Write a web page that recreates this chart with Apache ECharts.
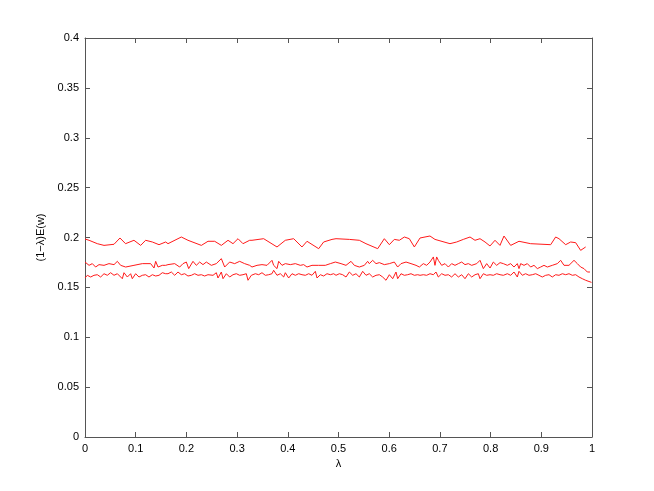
<!DOCTYPE html>
<html>
<head>
<meta charset="utf-8">
<script src="https://cdn.jsdelivr.net/npm/echarts@6/dist/echarts.min.js"></script>
<style>html,body{margin:0;padding:0;background:#fff}#c{width:654px;height:491px}</style>
</head>
<body>
<div id="c"></div>
<script>
const xTicks = [0,0.1,0.2,0.3,0.4,0.5,0.6,0.7,0.8,0.9,1];
const yTicks = [0,0.05,0.1,0.15,0.2,0.25,0.3,0.35,0.4];

const topLambda = [0,0.008,0.0243,0.0375,0.0572,0.069,0.080,0.0966,0.1098,0.1196,0.1328,0.146,0.1591,
 0.1637,0.190,0.2031,0.2295,0.2426,0.2558,0.2689,0.2821,0.2919,0.3018,0.3116,0.3248,
 0.3294,0.3524,0.3787,0.3951,0.4116,0.4280,0.4379,0.4609,0.4707,0.4872,
 0.4951,0.5214,0.5411,0.5542,0.5773,0.5904,0.6003,0.6101,0.6200,0.6299,0.6397,0.6496,
 0.6608,0.6804,0.6903,0.7199,0.7331,0.7462,0.7594,0.7692,0.7791,0.7890,0.7988,0.8087,0.8185,
 0.8264,0.8396,0.8560,0.8790,0.9185,0.9283,0.9349,0.9481,0.9579,0.9678,0.9776,0.9875];
const topValues = [0.1985,0.1972,0.1938,0.1921,0.1932,0.1995,0.1938,0.1972,0.1921,0.1972,0.1955,0.1928,0.1955,
 0.1938,0.2005,0.1972,0.1921,0.1962,0.1962,0.1921,0.1972,0.1938,0.1988,0.1938,0.1972,
 0.1972,0.1988,0.1905,0.1972,0.1988,0.1905,0.1962,0.1888,0.1955,0.1981,
 0.1988,0.1981,0.1972,0.1938,0.1888,0.1988,0.1928,0.1981,0.1972,0.2005,0.1988,0.1905,
 0.1995,0.2015,0.1981,0.1938,0.1955,0.1981,0.2005,0.1972,0.1988,0.1955,0.1915,0.1972,0.1921,
 0.2015,0.1921,0.1962,0.1938,0.1928,0.2005,0.1988,0.1928,0.1955,0.1948,0.1871,0.1905];

const midLambda = [0,0.008,0.0144,0.0210,0.0276,0.0375,0.0473,0.0572,0.0638,0.0703,0.0802,0.0966,0.1131,0.1295,0.1361,0.1394,0.1440,0.1525,0.1591,
 0.1637,0.1769,0.1867,0.1933,0.1999,0.2045,0.2130,0.2196,0.2262,0.2327,0.2393,0.2492,0.2590,0.2689,0.2755,0.2853,0.2952,0.3051,0.3149,0.3248,
 0.3294,0.3393,0.3491,0.3590,0.3688,0.3721,0.3754,0.3787,0.3820,0.3886,0.3951,0.4050,0.4149,0.4247,0.4313,0.4379,0.4477,0.4609,0.4740,0.4839,0.4938,
 0.5050,0.5148,0.5247,0.5312,0.5411,0.5510,0.5575,0.5608,0.5674,0.5740,0.5806,0.5904,0.6003,0.6101,0.6167,0.6233,0.6332,0.6430,0.6529,0.6595,
 0.6673,0.6739,0.6805,0.6871,0.6903,0.6936,0.6969,0.7035,0.7101,0.7167,0.7232,0.7298,0.7364,0.7430,0.7495,0.7561,0.7627,0.7726,0.7791,0.7857,0.7923,0.7989,0.8054,0.8120,0.8186,0.8252,
 0.8330,0.8396,0.8461,0.8527,0.8560,0.8593,0.8659,0.8724,0.8790,0.8856,0.8922,0.8988,0.9053,0.9119,0.9217,0.9316,0.9382,0.9448,0.9546,0.9645,0.9711,0.9776,0.9842,0.9908,0.996];
const midValues = [0.1754,0.1721,0.1738,0.1704,0.1728,0.1721,0.1738,0.1728,0.1761,0.1721,0.1704,0.1721,0.1738,0.1738,0.1694,0.1761,0.1704,0.1721,0.1721,
 0.1728,0.1738,0.1704,0.1738,0.1754,0.1688,0.1761,0.1721,0.1754,0.1728,0.1754,0.1721,0.1738,0.1788,0.1704,0.1754,0.1738,0.1761,0.1738,0.1721,
 0.1704,0.1721,0.1728,0.1721,0.1771,0.1721,0.1738,0.1688,0.1761,0.1721,0.1738,0.1728,0.1738,0.1721,0.1728,0.1704,0.1721,0.1721,0.1721,0.1738,0.1754,
 0.1738,0.1721,0.1761,0.1721,0.1704,0.1721,0.1761,0.1738,0.1771,0.1738,0.1748,0.1728,0.1738,0.1754,0.1704,0.1738,0.1754,0.1738,0.1721,0.1704,
 0.1738,0.1721,0.1754,0.1805,0.1721,0.1805,0.1771,0.1721,0.1738,0.1704,0.1738,0.1721,0.1738,0.1754,0.1728,0.1738,0.1721,0.1738,0.1771,0.1688,0.1738,0.1694,0.1754,0.1721,0.1748,0.1738,
 0.1721,0.1738,0.1704,0.1738,0.1688,0.1738,0.1721,0.1738,0.1704,0.1721,0.1688,0.1704,0.1721,0.1704,0.1721,0.1738,0.1771,0.1721,0.1721,0.1771,0.1738,0.1704,0.1688,0.1654,0.1654];

const botLambda = [0,0.0046,0.0112,0.0177,0.0243,0.0309,0.0375,0.0440,0.0506,0.0572,0.0638,0.0736,0.0769,0.0835,0.0900,0.0933,0.0999,0.1065,0.1131,0.1196,0.1262,0.1328,0.1394,0.1460,0.1525,0.1591,
 0.1637,0.1703,0.1769,0.1834,0.1900,0.1966,0.2031,0.2097,0.2163,0.2229,0.2295,0.2360,0.2426,0.2525,0.2590,0.2623,0.2689,0.2722,0.2788,0.2853,0.2919,0.2985,0.3051,0.3116,0.3182,0.3215,0.3281,
 0.3360,0.3426,0.3491,0.3557,0.3623,0.3688,0.3721,0.3787,0.3853,0.3919,0.3951,0.4017,0.4083,0.4149,0.4214,0.4280,0.4346,0.4412,0.4477,0.4543,0.4576,0.4642,0.4707,0.4773,0.4839,0.4905,
 0.4951,0.5017,0.5082,0.5148,0.5214,0.5280,0.5345,0.5411,0.5477,0.5543,0.5608,0.5674,0.5740,0.5806,0.5871,0.5937,0.6003,0.6069,0.6134,0.6167,0.6233,0.6299,0.6364,0.6430,0.6496,0.6562,
 0.6608,0.6673,0.6739,0.6805,0.6871,0.6923,0.6969,0.7035,0.7101,0.7167,0.7232,0.7298,0.7364,0.7430,0.7495,0.7561,0.7627,0.7693,0.7758,0.7791,0.7857,0.7923,0.7989,0.8054,0.8120,0.8186,0.8252,
 0.8330,0.8396,0.8461,0.8527,0.8560,0.8626,0.8691,0.8757,0.8823,0.8889,0.8954,0.9020,0.9086,0.9152,0.9217,0.9283,0.9349,0.9415,0.9481,0.9546,0.9612,0.9678,0.9743,0.9809,0.9875,0.9908,0.999];
const botValues = [0.1594,0.1621,0.1604,0.1621,0.1627,0.1604,0.1637,0.1621,0.1647,0.1621,0.1637,0.1587,0.1647,0.1604,0.1637,0.1587,0.1637,0.1604,0.1621,0.1627,0.1604,0.1627,0.1614,0.1621,0.1647,0.1637,
 0.1637,0.1654,0.1621,0.1654,0.1627,0.1637,0.1614,0.1621,0.1637,0.1621,0.1627,0.1614,0.1627,0.1621,0.1647,0.1594,0.1654,0.1587,0.1637,0.1604,0.1627,0.1637,0.1621,0.1627,0.1637,0.1571,0.1621,
 0.1637,0.1627,0.1647,0.1621,0.1627,0.1637,0.1671,0.1621,0.1637,0.1604,0.1647,0.1594,0.1637,0.1621,0.1637,0.1627,0.1621,0.1637,0.1621,0.1661,0.1594,0.1627,0.1614,0.1637,0.1627,0.1637,
 0.1621,0.1637,0.1627,0.1604,0.1654,0.1621,0.1637,0.1604,0.1661,0.1621,0.1637,0.1604,0.1621,0.1627,0.1604,0.1571,0.1627,0.1587,0.1654,0.1587,0.1637,0.1621,0.1627,0.1637,0.1621,0.1627,
 0.1621,0.1627,0.1621,0.1637,0.1627,0.1654,0.1604,0.1637,0.1621,0.1627,0.1604,0.1637,0.1604,0.1627,0.1587,0.1637,0.1604,0.1627,0.1637,0.1587,0.1637,0.1621,0.1627,0.1621,0.1637,0.1627,0.1621,
 0.1637,0.1621,0.1654,0.1604,0.1661,0.1621,0.1637,0.1621,0.1627,0.1637,0.1621,0.1604,0.1621,0.1627,0.1604,0.1627,0.1621,0.1637,0.1627,0.1637,0.1621,0.1627,0.1604,0.1587,0.1571,0.1587,0.1550];

function pairs(xs, ys){ return xs.map((x,i)=>[x, ys[i]]); }

const font = 'Liberation Sans, Arial, Helvetica, sans-serif';
const axisCol = '#555';
const chart = echarts.init(document.getElementById('c'), null, {renderer:'canvas'});

function xAx(show, pos){
  return {
    type:'value', min:0, max:1, interval:0.1, position:pos,
    axisLine:{show:true, onZero:false, lineStyle:{color:axisCol, width:1}},
    axisTick:{show:true, inside:true, length:5, lineStyle:{color:axisCol}},
    axisLabel:{show:show, color:'#000', fontFamily:font, fontSize:11, margin:6,
      formatter:(v)=>String(+v.toFixed(2))},
    splitLine:{show:false},
    name: show ? 'λ' : '', nameLocation:'middle', nameGap:19,
    nameTextStyle:{color:'#000', fontFamily:font, fontSize:11}
  };
}
function yAx(show, pos){
  return {
    type:'value', min:0, max:0.4, interval:0.05, position:pos,
    axisLine:{show:true, onZero:false, lineStyle:{color:axisCol, width:1}},
    axisTick:{show:true, inside:true, length:5, lineStyle:{color:axisCol}},
    axisLabel:{show:show, color:'#000', fontFamily:font, fontSize:11, margin:6,
      formatter:(v)=>String(+v.toFixed(2))},
    splitLine:{show:false},
    name: show ? '(1−λ)E(w)' : '', nameLocation:'middle', nameGap:33,
    nameTextStyle:{color:'#000', fontFamily:font, fontSize:11}
  };
}

const lineStyle = {color:'#ff1a1a', width:1};
chart.setOption({
  animation:false,
  backgroundColor:'#fff',
  grid:{left:85, right:62, top:38, bottom:54, containLabel:false},
  xAxis:[xAx(true,'bottom'), xAx(false,'top')],
  yAxis:[yAx(true,'left'), yAx(false,'right')],
  series:[
    {type:'line', data:pairs(topLambda, topValues), showSymbol:false, symbol:'none', lineStyle, itemStyle:{color:'#ff1a1a'}},
    {type:'line', data:pairs(midLambda, midValues), showSymbol:false, symbol:'none', lineStyle, itemStyle:{color:'#ff1a1a'}},
    {type:'line', data:pairs(botLambda, botValues), showSymbol:false, symbol:'none', lineStyle, itemStyle:{color:'#ff1a1a'}}
  ]
});
</script>
</body>
</html>
